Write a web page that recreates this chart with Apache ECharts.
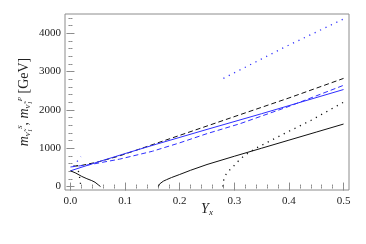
<!DOCTYPE html>
<html>
<head>
<meta charset="utf-8">
<script src="https://cdn.jsdelivr.net/npm/echarts@6/dist/echarts.min.js"></script>
<style>html,body{margin:0;padding:0;background:#fff}#c{width:366px;height:244px}</style>
</head>
<body>
<div id="c"></div>
<script>
// ---- data ----
const xMajorTicks = [0, 0.1, 0.2, 0.3, 0.4, 0.5];
const yMajorTicks = [0, 1000, 2000, 3000, 4000];

const blackSolidLeftX = [0, 0.01, 0.0206, 0.03, 0.039, 0.045, 0.048, 0.0507, 0.053, 0.055];
const blackSolidLeftY = [410, 350, 265, 205, 155, 112, 80, 48, 22, 0];

const blackSolidRightX = [0.161, 0.1615, 0.163, 0.166, 0.17, 0.176, 0.185, 0.2, 0.22, 0.25, 0.3, 0.35, 0.4, 0.45, 0.5];
const blackSolidRightY = [0, 30, 65, 105, 140, 180, 235, 315, 425, 575, 790, 1000, 1210, 1420, 1630];

const blackDottedLeftX = [0.012, 0.014, 0.016, 0.0177, 0.019];
const blackDottedLeftY = [560, 440, 300, 150, 0];

const blackDottedRightX = [0.279, 0.2795, 0.2813, 0.285, 0.29, 0.297, 0.307, 0.317, 0.328, 0.341, 0.372, 0.403, 0.44, 0.5];
const blackDottedRightY = [0, 90, 219, 320, 410, 506, 660, 790, 900, 1010, 1238, 1462, 1723, 2200];

const blackDashedX = [0.005, 0.02, 0.05, 0.09, 0.2, 0.31, 0.4, 0.5];
const blackDashedY = [530, 550, 640, 800, 1335, 1872, 2310, 2820];

const blueSolidX = [0, 0.05, 0.1, 0.158, 0.25, 0.35, 0.5];
const blueSolidY = [410, 640, 860, 1107, 1490, 1900, 2530];

const blueDashedX = [0, 0.035, 0.09, 0.15, 0.2, 0.25, 0.31, 0.4, 0.5];
const blueDashedY = [510, 570, 715, 920, 1140, 1380, 1637, 2090, 2640];

const blueDottedLeftX = [0.006, 0.012, 0.019];
const blueDottedLeftY = [520, 650, 780];

const blueDottedRightX = [0.28, 0.39, 0.5];
const blueDottedRightY = [2820, 3620, 4370];

// ---- helpers ----
const zip = (xs, ys) => xs.map((x, i) => [x, ys[i]]);
const range = (a, b, s) => { const r = []; for (let v = a; v <= b + 1e-9; v += s) r.push(+v.toFixed(4)); return r; };
const xMinor = range(0, 0.5, 0.02);
const yMinor = range(0, 4400, 200);

const BLACK = '#111';
const BLUE = '#2f2fff';
const GRAY = '#8c8c8c';
const FONT = 'Liberation Serif';

const xMin = -0.01, xMax = 0.51, yMin = -90, yMax = 4500;

function xAx(pos, custom, len, labels, extra) {
  return Object.assign({
    type: 'value', position: pos, min: xMin, max: xMax,
    axisLine: { show: false }, splitLine: { show: false },
    axisTick: { show: true, inside: true, length: len, customValues: custom, lineStyle: { color: GRAY, width: 1 } },
    axisLabel: labels ? { show: true, customValues: xMajorTicks, formatter: v => v.toFixed(1), fontFamily: FONT, fontSize: 11, color: '#222', margin: 6 } : { show: false }
  }, extra || {});
}
function yAx(pos, custom, len, labels, extra) {
  return Object.assign({
    type: 'value', position: pos, min: yMin, max: yMax,
    axisLine: { show: false }, splitLine: { show: false },
    axisTick: { show: true, inside: true, length: len, customValues: custom, lineStyle: { color: GRAY, width: 1 } },
    axisLabel: labels ? { show: true, customValues: yMajorTicks, formatter: v => String(Math.round(v)), fontFamily: FONT, fontSize: 11, color: '#222', margin: 4 } : { show: false }
  }, extra || {});
}

function line(xs, ys, color, type, width) {
  return {
    type: 'line', xAxisIndex: 0, yAxisIndex: 0,
    data: zip(xs, ys), showSymbol: false, smooth: false,
    lineStyle: { color: color, type: type, width: width || 1 },
    silent: true, animation: false
  };
}

const chart = echarts.init(document.getElementById('c'), null, { renderer: 'canvas' });
chart.setOption({
  animation: false,
  backgroundColor: '#fff',
  textStyle: { fontFamily: FONT },
  grid: { left: 65, right: 17, top: 14, bottom: 54, show: true, borderColor: GRAY, borderWidth: 1, backgroundColor: 'transparent' },
  xAxis: [
    xAx('bottom', xMajorTicks, 4, true, {
      name: '{i|Y}{s|x}', nameLocation: 'middle', nameGap: 12, nameMoveOverlap: false,
      nameTextStyle: { rich: {
        i: { fontFamily: FONT, fontStyle: 'italic', fontSize: 14, color: '#222' },
        s: { fontFamily: FONT, fontStyle: 'italic', fontSize: 9, color: '#222', verticalAlign: 'bottom', padding: [6, 0, 0, 0] }
      } }
    }),
    xAx('bottom', xMinor, 2, false),
    xAx('top', xMajorTicks, 4, false),
    xAx('top', xMinor, 2, false)
  ],
  yAxis: [
    yAx('left', yMajorTicks, 4, true, {
      name: '{m|m}{s|ν̃₁}{p|S}{m|, m}{s|ν̃₁}{p|P}{n| [GeV]}', nameLocation: 'middle', nameGap: 33, nameMoveOverlap: false,
      nameTextStyle: { rich: {
        m: { fontFamily: FONT, fontStyle: 'italic', fontSize: 14, color: '#222' },
        n: { fontFamily: FONT, fontSize: 14, color: '#222' },
        s: { fontFamily: FONT, fontStyle: 'italic', fontSize: 9, color: '#222', verticalAlign: 'bottom', padding: [6, 0, 0, 0] },
        p: { fontFamily: FONT, fontStyle: 'italic', fontSize: 7, color: '#222', verticalAlign: 'top', padding: [0, 0, 6, 0] }
      } }
    }),
    yAx('left', yMinor, 2, false),
    yAx('right', yMajorTicks, 4, false),
    yAx('right', yMinor, 2, false)
  ],
  series: [
    line(blueDottedRightX, blueDottedRightY, BLUE, [1.2, 4.8], 1.3),
    line(blueDottedLeftX, blueDottedLeftY, BLUE, [1.2, 4.8], 1.3),
    line(blackDottedRightX, blackDottedRightY, BLACK, [1.2, 4.8], 1.3),
    line(blackDottedLeftX, blackDottedLeftY, BLACK, [1.2, 4.8], 1.3),
    line(blackDashedX, blackDashedY, BLACK, [5, 3], 1),
    line(blueDashedX, blueDashedY, BLUE, [5, 3], 1),
    line(blueSolidX, blueSolidY, BLUE, 'solid', 1),
    line(blackSolidLeftX, blackSolidLeftY, BLACK, 'solid', 1),
    line(blackSolidRightX, blackSolidRightY, BLACK, 'solid', 1)
  ]
});
</script>
</body>
</html>
